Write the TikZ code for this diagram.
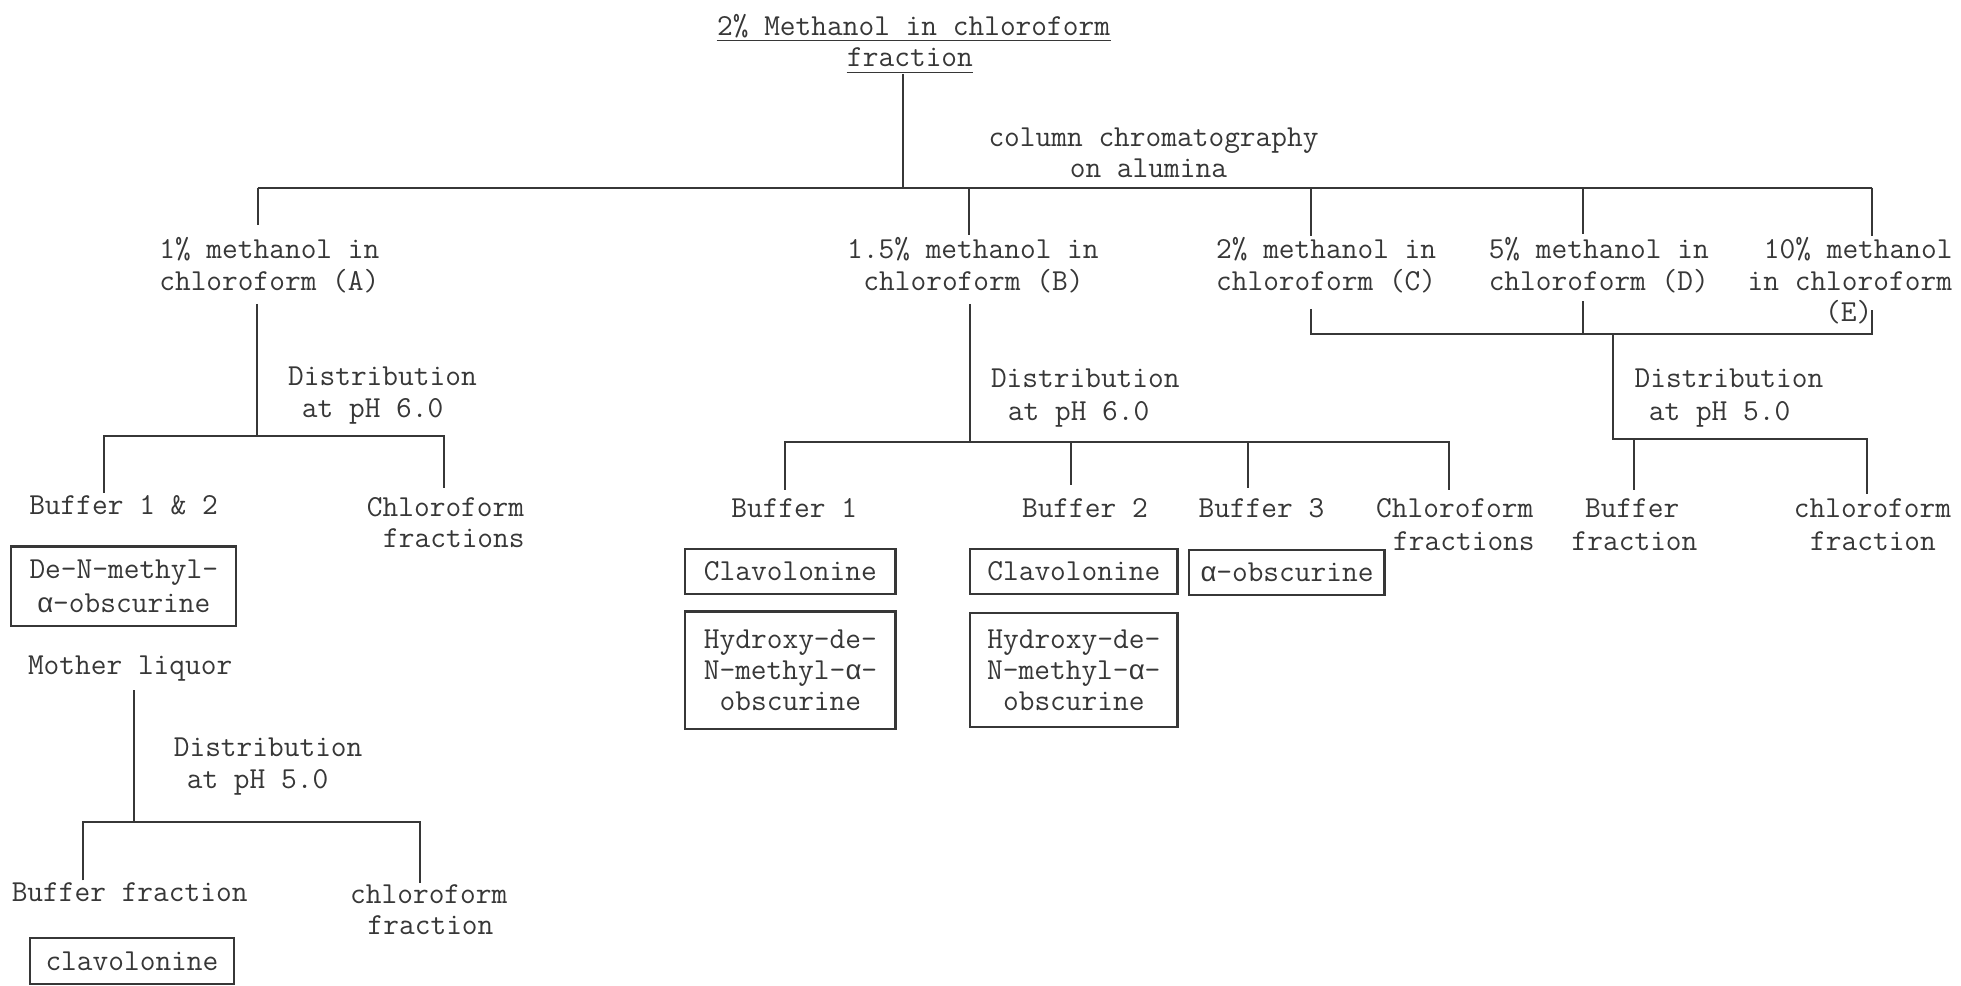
\documentclass[tikz,border=0pt]{standalone}
\usepackage{fontspec}
\newfontfamily\grk{Liberation Mono}
\newcommand\al{\makebox[6.4pt]{\fontsize{11}{11}\grk α}}
\definecolor{ink}{RGB}{55,55,55}
\tikzset{
  txt/.style={anchor=base west, inner sep=0pt, text=ink, font=\fontsize{12.2}{12.7}\selectfont\ttfamily},
  ln/.style={draw=ink, line width=0.8pt},
  uln/.style={draw=ink, line width=0.6pt},
  boxn/.style={draw=ink, line width=0.9pt, inner sep=0pt, align=center, text=ink, font=\fontsize{12.2}{12.5}\selectfont\ttfamily},
}
\begin{document}
\begin{tikzpicture}[x=0.5pt,y=-0.5pt]
\useasboundingbox (0,0) rectangle (1568,788);
% ---------- texts ----------
\node[txt] (t1) at (573,28) {2\% Methanol in chloroform};
\node[txt] (t2) at (677,53) {fraction};
\node[txt] (cc1) at (790,117) {column chromatography};
\node[txt] (cc2) at (855,142) {on alumina};
\node[txt] (A1) at (127,207) {1\% methanol in};
\node[txt] (A2) at (127,232) {chloroform (A)};
\node[txt] (B1) at (677,207) {1.5\% methanol in};
\node[txt] (B2) at (690,232) {chloroform (B)};
\node[txt] (C1) at (972,207) {2\% methanol in};
\node[txt] (C2) at (972,232) {chloroform (C)};
\node[txt] (D1) at (1190,207) {5\% methanol in};
\node[txt] (D2) at (1190,232) {chloroform (D)};
\node[txt] (E1) at (1410,207) {10\% methanol};
\node[txt] (E2) at (1397,232) {in chloroform};
\node[txt] (E3) at (1459,257) {(E)};
\node[txt] (dA1) at (230,308) {Distribution};
\node[txt] (dA2) at (241,334) {at pH 6.0};
\node[txt] (bA) at (23,411.5) {Buffer 1 \& 2};
\node[txt] (cA1) at (293,413) {Chloroform};
\node[txt] (cA2) at (306,437.5) {fractions};
\node[txt] (ml) at (22,539) {Mother liquor};
\node[txt] (dM1) at (138.6,604.7) {Distribution};
\node[txt] (dM2) at (149,630.5) {at pH 5.0};
\node[txt] (bM) at (9,721) {Buffer fraction};
\node[txt] (cM1) at (279.6,722.8) {chloroform};
\node[txt] (cM2) at (293.6,747) {fraction};
\node[txt] (dB1) at (792,310) {Distribution};
\node[txt] (dB2) at (805.5,336) {at pH 6.0};
\node[txt] (b1) at (584.4,413.5) {Buffer 1};
\node[txt] (b2) at (816.8,413.5) {Buffer 2};
\node[txt] (b3) at (958,413.5) {Buffer 3};
\node[txt] (cB1) at (1100,413.5) {Chloroform};
\node[txt] (cB2) at (1113.6,440) {fractions};
\node[txt] (dC1) at (1306.7,310) {Distribution};
\node[txt] (dC2) at (1318,336) {at pH 5.0};
\node[txt] (bC1) at (1267,413.5) {Buffer};
\node[txt] (bC2) at (1256.3,440) {fraction};
\node[txt] (cC1) at (1434,413.5) {chloroform};
\node[txt] (cC2) at (1447,440) {fraction};
% ---------- boxes ----------
\node[boxn, minimum width=90pt, minimum height=31.75pt, font=\fontsize{12.2}{13.5}\selectfont\ttfamily] (deN) at (99,468.75) {De-N-methyl-\\\al-obscurine};
\node[boxn, minimum width=81.5pt, minimum height=18.35pt] (clavA) at (105.5,768.35) {clavolonine};
\node[boxn, minimum width=84pt, minimum height=18pt] (clav1) at (632,457) {Clavolonine};
\node[boxn, minimum width=84pt, minimum height=47pt] (hyd1) at (632,536) {Hydroxy-de-\\N-methyl-\al-\\obscurine};
\node[boxn, minimum width=83pt, minimum height=18pt] (clav2) at (858.6,457) {Clavolonine};
\node[boxn, minimum width=83pt, minimum height=45.75pt] (hyd2) at (858.6,535.75) {Hydroxy-de-\\N-methyl-\al-\\obscurine};
\node[boxn, minimum width=78pt, minimum height=18pt] (aobs) at (1029,458) {\al-obscurine};
% ---------- underlines ----------
\draw[uln] ([yshift=-2.2pt]t1.base west) -- ([yshift=-2.2pt]t1.base east);
\draw[uln] ([yshift=-2.5pt]t2.base west) -- ([yshift=-2.5pt]t2.base east);
% ---------- coordinates ----------
\coordinate (r0) at (722,59);   \coordinate (r1) at (722,150);
\coordinate (pA) at (206,150);  \coordinate (qA) at (206,180);
\coordinate (pB) at (775,150);  \coordinate (qB) at (775,188);
\coordinate (pC) at (1048,150); \coordinate (qC) at (1048,189);
\coordinate (pD) at (1266,150); \coordinate (qD) at (1266,187);
\coordinate (pE) at (1497,150); \coordinate (qE) at (1497,189);
% A branch
\coordinate (aT) at (205.5,243); \coordinate (aJ) at (205.5,349);
\coordinate (aL) at (83,349);    \coordinate (aLe) at (83,394);
\coordinate (aR) at (355,349);   \coordinate (aRe) at (355,390);
% mother liquor branch
\coordinate (mT) at (107,552);   \coordinate (mJ) at (107,657.5);
\coordinate (mL) at (66,657.5);  \coordinate (mLe) at (66,704);
\coordinate (mR) at (336,657.5); \coordinate (mRe) at (336,706);
% B branch
\coordinate (bT) at (775.5,243); \coordinate (bJ) at (775.5,353.3);
\coordinate (k1) at (627.6,353.3); \coordinate (k1e) at (627.6,391.5);
\coordinate (k2) at (856.6,353.3); \coordinate (k2e) at (856.6,388);
\coordinate (k3) at (998,353.3);   \coordinate (k3e) at (998,390);
\coordinate (k4) at (1158.7,353.3);\coordinate (k4e) at (1158.7,391.5);
% C D E branch
\coordinate (cT) at (1048,247);  \coordinate (cJ) at (1048,266.7);
\coordinate (dT) at (1266,241);  \coordinate (dJ) at (1266,266.7);
\coordinate (eT) at (1497,248);  \coordinate (eJ) at (1497,266.7);
\coordinate (jT) at (1289.5,266.7); \coordinate (jJ) at (1289.5,350.7);
\coordinate (gR) at (1492.6,350.7);
\coordinate (g1) at (1306.7,350.7); \coordinate (g1e) at (1306.7,391.5);
\coordinate (g2e) at (1492.6,395);
% ---------- connectors ----------
\draw[ln] (r0) -- (r1);
\draw[ln] (pA) -- (pE);
\draw[ln] (pA) -- (qA);
\draw[ln] (pB) -- (qB);
\draw[ln] (pC) -- (qC);
\draw[ln] (pD) -- (qD);
\draw[ln] (pE) -- (qE);
\draw[ln] (aT) -- (aJ);
\draw[ln] (aLe) -- (aL) -- (aR) -- (aRe);
\draw[ln] (mT) -- (mJ);
\draw[ln] (mLe) -- (mL) -- (mR) -- (mRe);
\draw[ln] (bT) -- (bJ);
\draw[ln] (k1e) -- (k1) -- (k4) -- (k4e);
\draw[ln] (k2) -- (k2e);
\draw[ln] (k3) -- (k3e);
\draw[ln] (cT) -- (cJ) -- (eJ) -- (eT);
\draw[ln] (dT) -- (dJ);
\draw[ln] (jT) -- (jJ) -- (gR) -- (g2e);
\draw[ln] (g1) -- (g1e);
\end{tikzpicture}
\end{document}
